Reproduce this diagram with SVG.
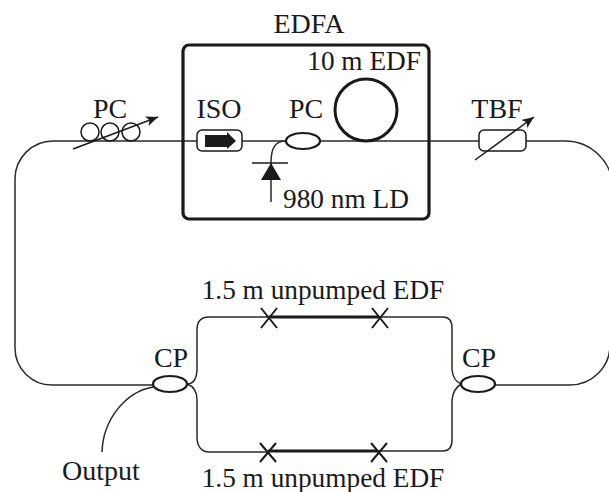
<svg xmlns="http://www.w3.org/2000/svg" width="609" height="492" viewBox="0 0 609 492">
<defs><marker id="ah" markerUnits="userSpaceOnUse" markerWidth="14" markerHeight="12" refX="12" refY="5" orient="auto"><path d="M0,0 L12,5 L0,10 L3,5 Z" fill="#1a1a1a"/></marker></defs>
<style>
text{font-family:"Liberation Serif",serif;font-size:28px;fill:#1a1a1a}
text.l{font-size:27.300px}
.f{fill:none;stroke:#2a2a2a;stroke-width:1.5}
.e{fill:#fff;stroke:#1a1a1a;stroke-width:2.2}
.t{fill:none;stroke:#1a1a1a;stroke-width:1.5}
.x{fill:none;stroke:#1a1a1a;stroke-width:2}
.b{fill:none;stroke:#1a1a1a;stroke-width:3.2}
</style>
<g id="connectors">
<path class="f" d="M565,141 A48,48 0 0 1 613,189 L610,345 A40,40 0 0 1 570,385 H495"/>
<path class="f" d="M53,141 A38,38 0 0 0 15,179 V348 A37,37 0 0 0 52,385 H153"/>
<path class="f" d="M53,141 H565"/>
<path class="f" d="M153,387 C125,392 103,420 102,452"/>
<path class="f" d="M187,384 C193,384 197,380 197,368 V330 C197,321 202,317 209,317 H269"/>
<path class="f" d="M187,384 C193,386 197,390 197,400 V437 C197,447 202,452 209,452 H268"/>
<path class="f" d="M379,317 H443 C449,317 452,321 452,328 V370 C453,378 456,382 461,384"/>
<path class="f" d="M378,451 H443 C449,451 452,447 452,440 V400 C453,391 456,387 461,384"/>
<path class="b" d="M269,317 H379"/>
<path class="b" d="M268,451 H378"/>
<path class="f" d="M286,141 C275,141 271,148 271,163 V202"/>
</g>
<g id="edfa"><rect x="183" y="45" width="246" height="174" rx="6" fill="none" stroke="#1a1a1a" stroke-width="3.2"/><text x="309" y="33" text-anchor="middle">EDFA</text></g>
<g id="pc1"><circle class="t" cx="90" cy="132" r="9"/><circle class="t" cx="110" cy="132" r="9"/><circle class="t" cx="131" cy="132" r="9"/><path class="t" d="M73,149 L158,117" marker-end="url(#ah)"/><text x="110" y="118" text-anchor="middle">PC</text></g>
<g id="iso"><rect x="197" y="130" width="45" height="21" rx="5" fill="#fff" stroke="#1a1a1a" stroke-width="1.5"/><path d="M205,135 H227 V132 L236,141 L227,149 V147 H205 Z" fill="#1a1a1a"/><text x="219" y="118" text-anchor="middle">ISO</text></g>
<g id="pc2"><ellipse class="e" cx="303" cy="141" rx="17" ry="8"/><text x="306" y="118" text-anchor="middle">PC</text></g>
<g id="edf"><circle cx="366" cy="110" r="31" fill="none" stroke="#1a1a1a" stroke-width="3"/><text class="l" x="421" y="70" text-anchor="end">10 m EDF</text></g>
<g id="ld"><path d="M252,163 H288" class="t"/><path d="M271,163 L281,180 H261 Z" fill="#1a1a1a"/><text class="l" x="283" y="208">980 nm LD</text></g>
<g id="tbf"><rect x="479" y="130" width="47" height="21" rx="5" fill="#fff" stroke="#1a1a1a" stroke-width="1.5"/><path class="t" d="M475,160 L534,117" marker-end="url(#ah)"/><text x="497" y="118" text-anchor="middle">TBF</text></g>
<g id="cp1"><ellipse class="e" cx="170" cy="384" rx="17" ry="8"/><text x="171" y="367" text-anchor="middle">CP</text></g>
<g id="cp2"><ellipse class="e" cx="478" cy="384" rx="17" ry="8"/><text x="479" y="367" text-anchor="middle">CP</text></g>
<g id="splices"><path class="x" d="M261,308 L277,328 M277,308 L261,328 M372,308 L388,328 M388,308 L372,328 M260,443 L276,462 M276,443 L260,462 M371,443 L387,462 M387,443 L371,462"/></g>
<g id="labels"><text class="l" x="323" y="299" text-anchor="middle">1.5 m unpumped EDF</text><text class="l" x="323" y="487" text-anchor="middle">1.5 m unpumped EDF</text><text x="101" y="480" text-anchor="middle">Output</text></g>
</svg>
